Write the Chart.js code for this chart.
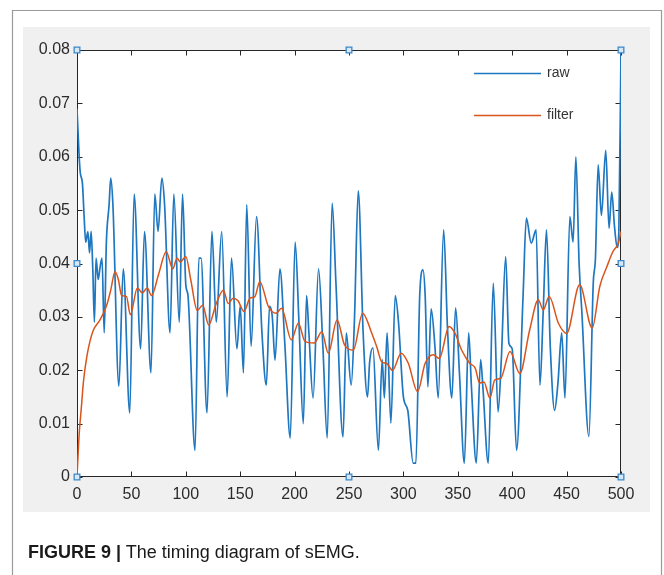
<!DOCTYPE html>
<html>
<head>
<meta charset="utf-8">
<script src="https://cdn.jsdelivr.net/npm/chart.js@4"></script>
<style>
  html, body { margin: 0; padding: 0; background: #ffffff; }
  #wrap { position: relative; width: 664px; height: 575px; overflow: hidden; }
  #c { position: absolute; left: 0; top: 0; }
  #caption { position: absolute; left: 28px; top: 542px; font-family: "Liberation Sans", Arial, sans-serif; font-size: 18px; color: #1a1a1a; white-space: nowrap; }
  #caption b { font-weight: bold; }
</style>
</head>
<body>
<div id="wrap">
  <canvas id="c" width="664" height="575"></canvas>
  <div id="caption"><b>FIGURE 9 |</b> The timing diagram of sEMG.</div>
</div>
<script>
// ---- data ----
const seriesLabels = ["raw", "filter"];

const rawX = [0,2,3,5,6.5,8,10,11.5,13,14.5,16,17.5,19.5,21,23,25,27,29.5,31,33,38.5,42.5,48.5,52.5,58.5,62,68,71.5,74.5,78,80.5,85.5,89,94,97,100,102,108.5,112,114,119.5,124,128,133,138,142,147,150,153,156,160,165,170,174,177,179.5,182,186.5,191,196,200.5,204,208,211,213,217,222,226,230,234.5,238,244.5,247.5,252,255,258.5,263,267,269,272,277,280.5,282.5,285,288.5,292.5,295.5,300,304,309,311.5,315,318,320,322.5,325.5,329,332,337,340.5,344.5,348,351.5,356,360,362.5,367,371,373,378,382.6,387,390,394,397,400,404,410,413,417.5,422,425.5,428.5,431.5,435,439,442,445.5,448.5,453,456,458.5,461.5,464,470.5,474.5,476.5,479,482,486,489,491.5,494,496.5,498,500];
const rawY = [0.069,0.060,0.057,0.055,0.049,0.044,0.046,0.042,0.046,0.039,0.029,0.041,0.037,0.039,0.041,0.027,0.044,0.051,0.056,0.051,0.017,0.039,0.012,0.053,0.024,0.046,0.0195,0.053,0.046,0.056,0.051,0.027,0.053,0.029,0.053,0.036,0.034,0.005,0.041,0.041,0.012,0.046,0.029,0.046,0.015,0.041,0.024,0.032,0.0195,0.051,0.0245,0.0488,0.027,0.0172,0.032,0.030,0.0219,0.039,0.025,0.0073,0.044,0.029,0.010,0.034,0.0275,0.0148,0.039,0.0244,0.0073,0.0513,0.0363,0.0075,0.027,0.0172,0.0294,0.0536,0.027,0.015,0.0216,0.0242,0.005,0.022,0.0148,0.027,0.0101,0.034,0.029,0.015,0.0125,0.0026,0.0026,0.034,0.0388,0.034,0.0169,0.0315,0.0244,0.0148,0.0463,0.028,0.0148,0.0317,0.0195,0.0026,0.027,0.017,0.0026,0.022,0.017,0.0026,0.0363,0.0122,0.022,0.0413,0.025,0.024,0.005,0.034,0.0485,0.0438,0.0463,0.0172,0.031,0.0463,0.0244,0.0125,0.0175,0.027,0.0148,0.0488,0.044,0.060,0.040,0.031,0.0076,0.0363,0.041,0.0585,0.049,0.0612,0.0466,0.0534,0.047,0.043,0.046,0.080];

const filterX = [0,2,4,6,9,12,15,21,27,31,35,38,41,45.5,49,55.5,60,64.5,68.5,75,82,88,92,95,100,104.5,110.5,115.5,121,128,134.5,139,143.5,148,153.5,159,163.5,168,176,183,188,197,203.5,209.5,218,225,231,239,246,254,262.5,271,275.5,280,284.5,290,298,304.5,313,320,327.5,333,342,347.5,353.5,361,366,370,374,379.5,384,389.5,398,407,416,424,428.5,434,442.5,450,462,473.5,480.5,487,492.5,497.5,500];
const filterY = [0.000,0.008,0.013,0.018,0.0225,0.0255,0.0275,0.0294,0.032,0.035,0.0385,0.037,0.034,0.0338,0.0304,0.0354,0.0345,0.0354,0.034,0.038,0.0422,0.039,0.041,0.0403,0.0413,0.037,0.0312,0.0322,0.0285,0.0325,0.035,0.0325,0.0335,0.033,0.031,0.0335,0.0338,0.0366,0.0319,0.0307,0.0316,0.0257,0.0288,0.0254,0.0251,0.0272,0.0232,0.0294,0.0247,0.0238,0.0307,0.0269,0.0244,0.0216,0.0213,0.020,0.0232,0.0213,0.016,0.0213,0.0229,0.0222,0.0282,0.0269,0.0238,0.0213,0.0204,0.0176,0.0178,0.0148,0.0182,0.0185,0.0235,0.0194,0.0275,0.0332,0.0313,0.0338,0.0288,0.0269,0.036,0.0279,0.0357,0.0394,0.0422,0.0438,0.046];

// selection handle positions (axis corners / midpoints), in data units
const handleX = [0, 250, 500, 0, 500, 0, 250, 500];
const handleY = [0, 0, 0, 0.04, 0.04, 0.08, 0.08, 0.08];

const xTickStep = 50;
const yTickStep = 0.01;

// ---- chart ----
const FONT = '"Liberation Sans", Arial, sans-serif';
const AXIS = '#262626';
const LABEL = '#2b2b2b';

const pts = (xs, ys) => xs.map((x, i) => ({ x: x, y: ys[i] }));

const backgroundPlugin = {
  id: 'bg',
  beforeDraw(chart) {
    const ctx = chart.ctx;
    ctx.save();
    ctx.fillStyle = '#ffffff';
    ctx.fillRect(0, 0, chart.width, chart.height);
    // outer figure frame
    ctx.strokeStyle = '#9a9a9a';
    ctx.lineWidth = 1.2;
    ctx.beginPath();
    ctx.moveTo(12.5, chart.height);
    ctx.lineTo(12.5, 10.5);
    ctx.lineTo(661.5, 10.5);
    ctx.lineTo(661.5, chart.height);
    ctx.stroke();
    // gray figure panel
    ctx.fillStyle = '#f0f0f0';
    ctx.fillRect(23, 27, 627, 485);
    // white axes area
    const a = chart.chartArea;
    ctx.fillStyle = '#ffffff';
    ctx.fillRect(a.left, a.top, a.right - a.left, a.bottom - a.top);
    ctx.restore();
  },
  beforeDatasetsDraw(chart) {
    const ctx = chart.ctx;
    const a = chart.chartArea;
    const xs = chart.scales.x, ys = chart.scales.y;
    ctx.save();
    ctx.strokeStyle = AXIS;
    ctx.lineWidth = 1;
    const L = Math.round(a.left) + 0.5, R = Math.round(a.right) - 0.5;
    const T = Math.round(a.top) + 0.5, B = Math.round(a.bottom) - 0.5;
    ctx.beginPath();
    ctx.rect(L, T, R - L, B - T);
    ctx.stroke();
    const tl = 5;
    ctx.beginPath();
    xs.ticks.forEach(t => {
      const px = Math.round(xs.getPixelForValue(t.value)) + 0.5;
      ctx.moveTo(px, B); ctx.lineTo(px, B - tl);
      ctx.moveTo(px, T); ctx.lineTo(px, T + tl);
    });
    ys.ticks.forEach(t => {
      const py = Math.round(ys.getPixelForValue(t.value)) + 0.5;
      ctx.moveTo(L, py); ctx.lineTo(L + tl, py);
      ctx.moveTo(R, py); ctx.lineTo(R - tl, py);
    });
    ctx.stroke();
    ctx.restore();
  },
  afterDraw(chart) {
    // legend (no box), MATLAB style
    const ctx = chart.ctx;
    ctx.save();
    ctx.font = '14px ' + FONT;
    ctx.textBaseline = 'middle';
    const rows = [73, 115];
    [0, 1].forEach(i => {
      const ds = chart.data.datasets[i];
      ctx.strokeStyle = ds.borderColor;
      ctx.lineWidth = 1.3;
      ctx.beginPath();
      ctx.moveTo(474, rows[i] + 0.5);
      ctx.lineTo(541, rows[i] + 0.5);
      ctx.stroke();
      ctx.fillStyle = '#333333';
      ctx.fillText(ds.label, 547, rows[i]);
    });
    ctx.restore();
  }
};

new Chart(document.getElementById('c'), {
  type: 'line',
  data: {
    datasets: [
      {
        label: seriesLabels[0],
        data: pts(rawX, rawY),
        borderColor: '#1f77c0',
        borderWidth: 1.7,
        pointRadius: 0,
        cubicInterpolationMode: 'monotone',
        fill: false,
        order: 2
      },
      {
        label: seriesLabels[1],
        data: pts(filterX, filterY),
        borderColor: '#d9541a',
        borderWidth: 1.5,
        pointRadius: 0,
        cubicInterpolationMode: 'monotone',
        fill: false,
        order: 1
      },
      {
        label: 'handles',
        data: pts(handleX, handleY),
        showLine: false,
        pointStyle: 'rect',
        pointRadius: 4,
        pointBackgroundColor: '#d6e8f7',
        pointBorderColor: '#3c88c8',
        pointBorderWidth: 1.3,
        clip: false,
        order: 0
      }
    ]
  },
  options: {
    responsive: false,
    animation: false,
    events: [],
    layout: { padding: { left: 0, top: 50, right: 43, bottom: 0 } },
    plugins: { legend: { display: false }, tooltip: { enabled: false } },
    scales: {
      x: {
        type: 'linear',
        min: 0, max: 500,
        grid: { display: false, drawTicks: false, tickLength: 0 },
        border: { display: false },
        ticks: {
          stepSize: xTickStep,
          padding: 8,
          color: LABEL,
          font: { family: FONT, size: 16 },
          maxRotation: 0
        },
        afterFit(s) { s.height = 98; }
      },
      y: {
        type: 'linear',
        min: 0, max: 0.08,
        grid: { display: false, drawTicks: false, tickLength: 0 },
        border: { display: false },
        ticks: {
          stepSize: yTickStep,
          padding: 7,
          color: LABEL,
          font: { family: FONT, size: 16 },
          callback: v => (Math.abs(v) < 1e-9 ? '0' : (Math.round(v * 100) / 100).toFixed(2))
        },
        afterFit(s) { s.width = 77; }
      }
    }
  },
  plugins: [backgroundPlugin]
});
</script>
</body>
</html>
